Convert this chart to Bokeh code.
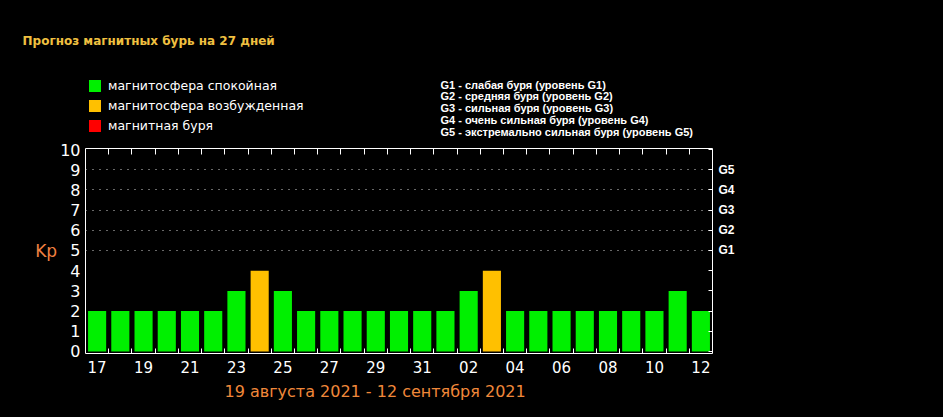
from bokeh.plotting import figure
from bokeh.layouts import column
from bokeh.models import (Range1d, LinearAxis, FixedTicker, Legend, LegendItem,
                          ColumnDataSource, Grid, Title)
from bokeh.core.properties import value
from bokeh.embed import file_html
from bokeh.resources import INLINE

# ---- data ----
days = ["17", "18", "19", "20", "21", "22", "23", "24", "25", "26", "27", "28", "29", "30",
        "31", "01", "02", "03", "04", "05", "06", "07", "08", "09", "10", "11", "12"]
kp = [2, 2, 2, 2, 2, 2, 3, 4, 3, 2, 2, 2, 2, 2, 2, 2, 3, 4, 2, 2, 2, 2, 2, 2, 2, 3, 2]
kp_ticks = list(range(0, 11))
g_ticks = [5, 6, 7, 8, 9]
g_labels = ["G1", "G2", "G3", "G4", "G5"]
state_labels = ["магнитосфера спокойная", "магнитосфера возбужденная", "магнитная буря"]
g_notes = ["G1 - слабая буря (уровень G1)",
           "G2 - средняя буря (уровень G2)",
           "G3 - сильная буря (уровень G3)",
           "G4 - очень сильная буря (уровень G4)",
           "G5 - экстремально сильная буря (уровень G5)"]
title_text = "Прогноз магнитных бурь на 27 дней"
period_text = "19 августа 2021 - 12 сентября 2021"
y_name = "Kp"

# ---- styles ----
state_colors = ["#00f000", "#ffc000", "#ff0000"]
W, H, HDR = 943, 417, 138


def state(v):
    return 0 if v < 4 else (1 if v < 5 else 2)


idx = list(range(len(days)))

# ================= header (title, legend, G notes) =================
hdr = figure(width=W, height=HDR, x_range=Range1d(0, W), y_range=Range1d(HDR, 0),
             output_backend="svg", toolbar_location=None, x_axis_type=None, y_axis_type=None,
             min_border=0, background_fill_color="black", border_fill_color="black",
             outline_line_color=None, frame_align=False)

hdr.text(x=[22], y=[40], text=[title_text], text_font=value("DejaVu Sans"),
         text_font_style="bold", text_font_size="12px", text_color="#f0c040",
         text_baseline="middle", text_align="left")

hdr.text(x=[440] * len(g_notes), y=[84 + 11.8 * k for k in range(len(g_notes))], text=g_notes,
         text_font=value("Liberation Sans"), text_font_style="bold", text_font_size="11px",
         text_color="white", text_baseline="middle", text_align="left")

# legend swatch renderers (zero-height placeholders, only used for the legend glyphs)
swatches = [hdr.vbar(x=[0], top=[0], bottom=[0], width=0, fill_color=c, line_color=None)
            for c in state_colors]
legend = Legend(items=[LegendItem(label=state_labels[s], renderers=[swatches[s]]) for s in range(3)],
                location=(87, HDR - 133), glyph_width=15, glyph_height=15, label_height=15,
                spacing=5, padding=0, margin=0, label_standoff=6,
                label_text_color="white", label_text_font="DejaVu Sans",
                label_text_font_size="12.5px", background_fill_alpha=0,
                border_line_color=None)
hdr.add_layout(legend, "center")

# ================= main chart =================
p = figure(width=W, height=H - HDR, x_range=Range1d(-0.5, 26.5), y_range=Range1d(-0.1, 10.05),
           output_backend="svg", toolbar_location=None, x_axis_type=None, y_axis_type=None,
           min_border_left=85, min_border_right=231, min_border_top=148 - HDR, min_border_bottom=64,
           background_fill_color="black", border_fill_color="black",
           outline_line_color="white", outline_line_width=1, frame_align=False)

p.add_layout(Grid(dimension=1, ticker=FixedTicker(ticks=g_ticks), grid_line_color="#d0d0d0",
                  grid_line_dash="1 6", grid_line_width=1))

for s in range(3):
    xs = [i for i in idx if state(kp[i]) == s]
    src = ColumnDataSource(dict(x=xs, top=[kp[i] for i in xs]))
    p.vbar(x="x", top="top", bottom=0, width=0.78, source=src,
           fill_color=state_colors[s], line_color=None)

boundaries = [i + 0.5 for i in idx[:-1]]

ly = LinearAxis(ticker=FixedTicker(ticks=kp_ticks), axis_line_color=None,
                major_tick_line_color=None, major_tick_out=0, major_tick_in=0,
                minor_tick_line_color=None,
                major_label_text_color="white", major_label_text_font="DejaVu Sans",
                major_label_text_font_size="16px", major_label_standoff=5,
                axis_label=y_name, axis_label_orientation="horizontal",
                axis_label_text_color="#f08040", axis_label_text_font="DejaVu Sans",
                axis_label_text_font_style="normal", axis_label_text_font_size="17px",
                axis_label_standoff=0)
p.add_layout(ly, "left")

ry = LinearAxis(ticker=FixedTicker(ticks=kp_ticks), axis_line_color=None,
                major_tick_line_color="white", major_tick_in=4, major_tick_out=0,
                minor_tick_line_color=None,
                major_label_overrides={t: (g_labels[g_ticks.index(t)] if t in g_ticks else "")
                                       for t in kp_ticks},
                major_label_text_color="white", major_label_text_font="Liberation Sans",
                major_label_text_font_style="bold", major_label_text_font_size="12px",
                major_label_standoff=6)
p.add_layout(ry, "right")

bx = LinearAxis(ticker=FixedTicker(ticks=idx[::2], minor_ticks=boundaries), axis_line_color=None,
                major_tick_line_color=None, major_tick_out=0, major_tick_in=0,
                minor_tick_line_color="white", minor_tick_in=5, minor_tick_out=0,
                major_label_overrides={i: days[i] for i in idx[::2]},
                major_label_text_color="white", major_label_text_font="DejaVu Sans",
                major_label_text_font_size="15px", major_label_standoff=7)
p.add_layout(bx, "below")

tx = LinearAxis(ticker=FixedTicker(ticks=[], minor_ticks=boundaries), axis_line_color=None,
                major_tick_line_color=None, major_tick_out=0, major_tick_in=0,
                minor_tick_line_color="white", minor_tick_in=6, minor_tick_out=0,
                major_label_text_font_size="0px", major_label_standoff=0)
p.add_layout(tx, "above")

p.add_layout(Title(text=period_text, align="left", offset=224 - 85, standoff=9,
                   text_color="#f0883a", text_font="DejaVu Sans", text_font_style="normal",
                   text_font_size="16px"), "below")

layout = column(hdr, p, spacing=0)
html = file_html(layout, INLINE)
html = html.replace("<head>", "<head><style>html, body { background: #000; margin: 0; }</style>", 1)
open("out.html", "w").write(html)
